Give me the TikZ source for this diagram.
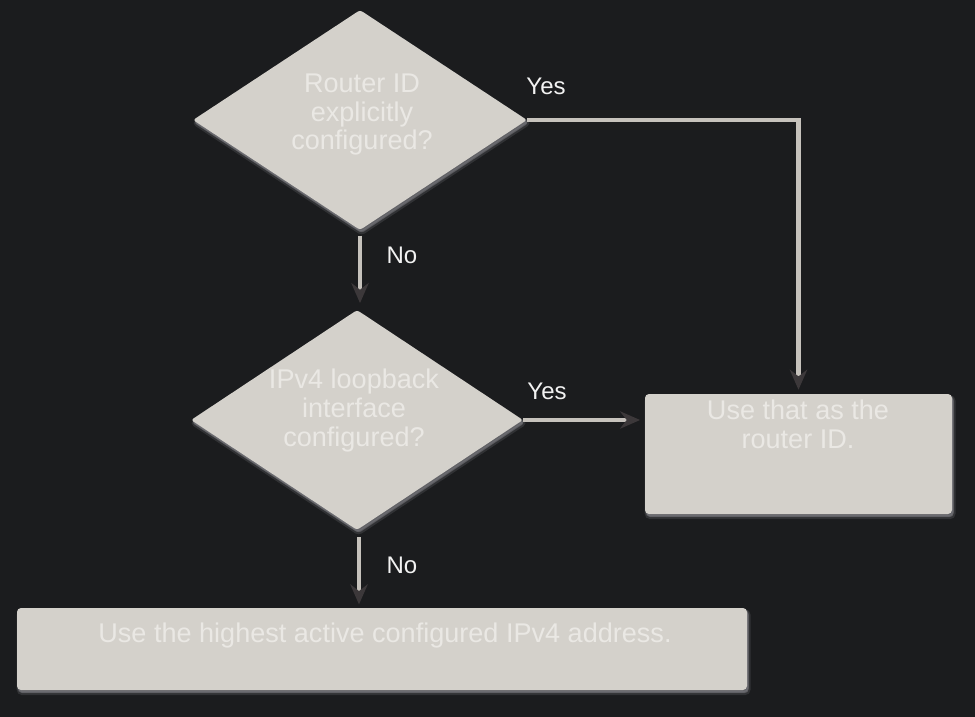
\documentclass[tikz,border=0pt]{standalone}
\usepackage{fontspec}
\setmainfont{Liberation Sans}
\usetikzlibrary{shapes.geometric,arrows.meta}
\definecolor{bg}{HTML}{1B1C1E}
\definecolor{shapefill}{HTML}{D4D1CB}
\definecolor{shapetext}{HTML}{EAE8E4}
\definecolor{linec}{HTML}{C6C2BC}
\definecolor{tipc}{HTML}{3C383A}
\definecolor{labc}{HTML}{F2F2F2}
\definecolor{glow}{HTML}{75757A}
\tikzset{
  shp/.style={draw=none, inner sep=0pt,
    preaction={draw=glow, line width=3pt, fill=glow, draw opacity=0.25, fill opacity=0.5,
      transform canvas={shift={(1.2pt,-2.4pt)}}},
    preaction={draw=glow, line width=1.2pt, fill=glow, draw opacity=0.4, fill opacity=0.6,
      transform canvas={shift={(0.8pt,-1.5pt)}}},
    fill=shapefill},
  dec/.style={shp, diamond, rounded corners=2pt},
  actbox/.style={shp, rectangle, rounded corners=3pt},
  intext/.style={text=shapetext, font=\fontsize{20.3}{21.6}\selectfont, align=center, inner sep=0pt},
  lab/.style={text=labc, font=\fontsize{18}{20}\selectfont, inner sep=0pt},
  conn/.style={draw=linec, line width=3.5pt,
    -{Stealth[length=15pt, width=13pt, inset=5pt, color=tipc]}},
}
\begin{document}
\begin{tikzpicture}[x=0.75pt, y=-0.75pt]
\fill[bg] (0,0) rectangle (975,717);
\useasboundingbox (0,0) rectangle (975,717);

\node[dec, minimum width=250.5pt, minimum height=165pt] (d1) at (360,120) {};
\node[dec, minimum width=249pt, minimum height=165pt] (d2) at (357,420) {};
\node[actbox, minimum width=230.25pt, minimum height=90pt] (rb) at (798.5,454) {};
\node[actbox, minimum width=547.5pt, minimum height=61.5pt] (bb) at (382,649) {};

\node[intext] (t1) at (362,114.5) {Router ID\\explicitly\\configured?};
\node[intext] (t2) at (354,410.5) {IPv4 loopback\\interface\\configured?};
\node[intext] (t3) at (798,424.5) {Use that as the\\router ID.};
\node[intext] (t4) at (385,635) {Use the highest active configured IPv4 address.};

\draw[conn, shorten <=4pt, shorten >=5pt] (d1.south) -- (d2.north -| d1.south);
\draw[conn, shorten >=3pt] (d1.east) -| (rb.north);
\draw[conn, shorten >=3.5pt] (d2.east) -- (d2.east -| rb.west);
\draw[conn, shorten <=5pt, shorten >=2.5pt] ([xshift=1.5pt]d2.south) -- ([xshift=1.5pt]d2.south |- bb.north);

\node[lab] (y1) at (546,86) {Yes};
\node[lab] (n1) at (402,255) {No};
\node[lab] (y2) at (547,391) {Yes};
\node[lab] (n2) at (402,565) {No};
\end{tikzpicture}
\end{document}
